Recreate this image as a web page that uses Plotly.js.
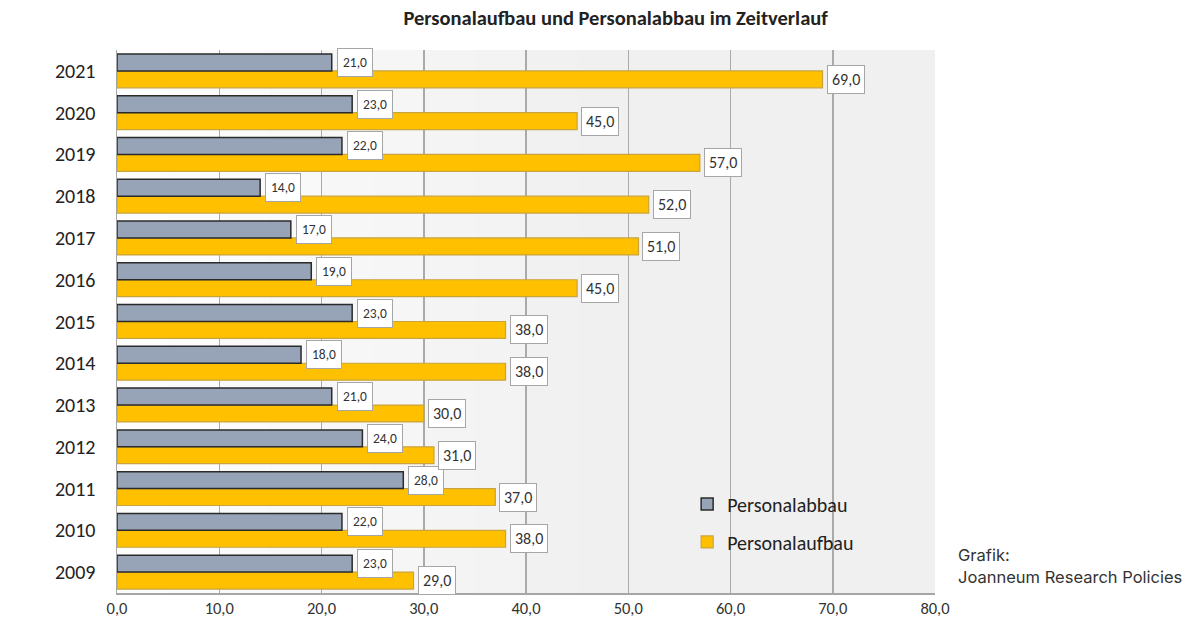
<!DOCTYPE html>
<html>
<head>
<meta charset="utf-8">
<script src="https://cdn.plot.ly/plotly-3.0.1.min.js"></script>
<style>
  html, body { margin: 0; padding: 0; background: #fff; }
  #chart { width: 1200px; height: 630px; }
</style>
</head>
<body>
<div id="chart"></div>
<script>
const YEARS = ["2009", "2010", "2011", "2012", "2013", "2014", "2015", "2016", "2017", "2018", "2019", "2020", "2021"];
const ABBAU = [23, 22, 28, 24, 21, 18, 23, 19, 17, 14, 22, 23, 21];
const AUFBAU = [29, 38, 37, 31, 30, 38, 38, 45, 51, 52, 57, 45, 69];
const X_TICKS = [0, 10, 20, 30, 40, 50, 60, 70, 80];

const FONT = "Carlito, Calibri, 'Liberation Sans Narrow', sans-serif";
const MARGIN = { l: 117, r: 265, t: 50, b: 37 };
const BARGAP = 0.19;

const fmtDe = (v) => v.toFixed(1).replace(".", ",");

// bar centre offset inside a category, in px
const plotHeight = 630 - MARGIN.t - MARGIN.b;
const barShift = (plotHeight / YEARS.length) * (1 - BARGAP) / 4;

function labelAnnotations(values, shift, size, pad, xshift) {
  // y given as category index so the annotation does not stretch the axis
  return values.map((v, i) => ({
    x: v,
    y: i,
    xref: "x",
    yref: "y",
    text: fmtDe(v),
    showarrow: false,
    xanchor: "left",
    xshift: xshift,
    yshift: shift,
    bgcolor: "#ffffff",
    bordercolor: "#a6a6a6",
    borderwidth: 1,
    borderpad: pad,
    font: { family: FONT, size: size, color: "#333333" },
  }));
}

// soft white -> grey gradient behind the bars
const bgShapes = [];
for (let i = 0; i < 16; i++) {
  const g = Math.round(253 - Math.min(1, i / 9) * 13);
  bgShapes.push({
    type: "rect",
    xref: "x",
    yref: "paper",
    x0: i * 5,
    x1: (i + 1) * 5,
    y0: 0,
    y1: 1,
    line: { width: 0 },
    fillcolor: `rgb(${g},${g},${g})`,
    layer: "below",
  });
}

const traces = [
  {
    type: "bar",
    orientation: "h",
    name: "Personalaufbau",
    legendgroup: "b",
    legendrank: 2,
    x: AUFBAU,
    y: YEARS,
    marker: { color: "#ffc000", line: { color: "#c9a43c", width: 1.2 } },
    hoverinfo: "skip",
  },
  {
    type: "bar",
    orientation: "h",
    name: "Personalabbau",
    legendgroup: "a",
    legendrank: 1,
    x: ABBAU,
    y: YEARS,
    marker: { color: "#97a3b7", line: { color: "#2b2b2b", width: 1.5 } },
    hoverinfo: "skip",
  },
];

const layout = {
  width: 1200,
  height: 630,
  margin: MARGIN,
  paper_bgcolor: "#ffffff",
  plot_bgcolor: "#f0f0f0",
  separators: ",.",
  barmode: "group",
  bargap: BARGAP,
  bargroupgap: 0,
  font: { family: FONT, color: "#333333" },
  title: {
    text: "<b>Personalaufbau und Personalabbau im Zeitverlauf</b>",
    xref: "container",
    yref: "container",
    x: 0.513,
    y: 0.971,
    xanchor: "center",
    yanchor: "middle",
    font: { family: FONT, size: 20.5, color: "#222222" },
  },
  xaxis: {
    range: [0, 80],
    tickvals: X_TICKS,
    tickformat: ".1f",
    showgrid: true,
    gridcolor: "#aaaaaa",
    gridwidth: 1.5,
    zeroline: false,
    showline: true,
    linecolor: "#a6a6a6",
    linewidth: 1.5,
    ticks: "",
    tickfont: { family: FONT, size: 16.5, color: "#333333" },
    fixedrange: true,
  },
  yaxis: {
    type: "category",
    categoryorder: "array",
    categoryarray: YEARS,
    range: [-0.5, YEARS.length - 0.5],
    showgrid: false,
    zeroline: false,
    showline: true,
    linecolor: "#a6a6a6",
    linewidth: 1.5,
    ticks: "outside",
    ticklen: 16,
    tickcolor: "rgba(0,0,0,0)",
    tickfont: { family: FONT, size: 20, color: "#222222" },
    fixedrange: true,
  },
  legend: {
    x: 0.697,
    y: 0.2,
    xanchor: "left",
    yanchor: "top",
    bgcolor: "rgba(0,0,0,0)",
    traceorder: "grouped",
    tracegroupgap: 9,
    itemwidth: 30,
    font: { family: FONT, size: 20, color: "#222222" },
  },
  shapes: bgShapes,
  annotations: [
    ...labelAnnotations(ABBAU, barShift, 13.5, 5, 5),
    ...labelAnnotations(AUFBAU, -barShift, 16, 4, 4),
    {
      xref: "paper",
      yref: "paper",
      x: 1.026,
      y: 0.07,
      xanchor: "left",
      yanchor: "middle",
      text: "Grafik:",
      showarrow: false,
      font: { family: "Inter, 'Noto Sans', sans-serif", size: 16.5, color: "#333333" },
    },
    {
      xref: "paper",
      yref: "paper",
      x: 1.026,
      y: 0.03,
      xanchor: "left",
      yanchor: "middle",
      text: "Joanneum Research Policies",
      showarrow: false,
      font: { family: "Inter, 'Noto Sans', sans-serif", size: 16.5, color: "#333333" },
    },
  ],
};

Plotly.newPlot("chart", traces, layout, { displayModeBar: false, staticPlot: true });
</script>
</body>
</html>
